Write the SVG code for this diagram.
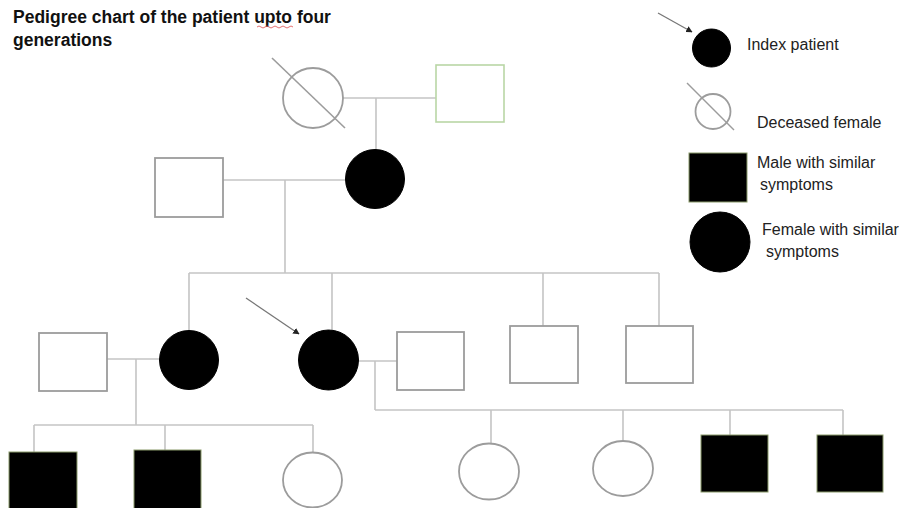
<svg xmlns="http://www.w3.org/2000/svg" width="906" height="508" viewBox="0 0 906 508">
<style>
.ln{stroke:#c4c4c4;stroke-width:1.6;fill:none}
.open{fill:#fff;stroke:#9c9c9c;stroke-width:1.8}
.green{fill:#fff;stroke:#b9d6a6;stroke-width:1.6}
.aff{fill:#000;stroke:#000;stroke-width:1}
.affsq{fill:#000;stroke:#8a9a6a;stroke-width:1}
.title{font-family:"Liberation Sans",Arial,sans-serif;font-weight:bold;font-size:17.5px;fill:#111}
.lg{font-family:"Liberation Sans",Arial,sans-serif;font-size:16px;fill:#222}
.arr{stroke:#777;stroke-width:1.3;fill:none}
</style>
<defs>
<marker id="ah" viewBox="0 0 10 10" refX="9" refY="5" markerWidth="5" markerHeight="5" orient="auto">
<path d="M0,0 L10,5 L0,10 z" fill="#222"/>
</marker>
</defs>
<rect width="906" height="508" fill="#fff"/>

<g id="title">
<text class="title" x="13" y="23">Pedigree chart of the patient upto four</text>
<text class="title" x="13" y="46">generations</text>
<path d="M257,27 q2,-2 4,0 t4,0 t4,0 t4,0 t4,0 t4,0 t4,0 t4,0 t4,0" stroke="#e06060" stroke-width="0.9" fill="none"/>
</g>

<g id="connectors">
<!-- Gen I -->
<line class="ln" x1="343" y1="98" x2="436" y2="98"/>
<line class="ln" x1="376" y1="98" x2="376" y2="150"/>
<!-- Gen II -->
<line class="ln" x1="223" y1="180" x2="346" y2="180"/>
<line class="ln" x1="285" y1="180" x2="285" y2="273"/>
<line class="ln" x1="189" y1="273" x2="659" y2="273"/>
<line class="ln" x1="189" y1="273" x2="189" y2="331"/>
<line class="ln" x1="332" y1="273" x2="332" y2="331"/>
<line class="ln" x1="543" y1="273" x2="543" y2="326"/>
<line class="ln" x1="659" y1="273" x2="659" y2="326"/>
<!-- Gen III left family -->
<line class="ln" x1="107" y1="359" x2="160" y2="359"/>
<line class="ln" x1="136" y1="359" x2="136" y2="425"/>
<line class="ln" x1="34" y1="425" x2="313" y2="425"/>
<line class="ln" x1="34" y1="425" x2="34" y2="452"/>
<line class="ln" x1="165" y1="425" x2="165" y2="450"/>
<line class="ln" x1="313" y1="425" x2="313" y2="452"/>
<!-- Gen III index family -->
<line class="ln" x1="358" y1="361" x2="397" y2="361"/>
<line class="ln" x1="375" y1="361" x2="375" y2="410"/>
<line class="ln" x1="375" y1="410" x2="843" y2="410"/>
<line class="ln" x1="491" y1="410" x2="491" y2="444"/>
<line class="ln" x1="623" y1="410" x2="623" y2="441"/>
<line class="ln" x1="730" y1="410" x2="730" y2="435"/>
<line class="ln" x1="843" y1="410" x2="843" y2="435"/>
<!-- index arrow -->
<line class="arr" x1="246" y1="298" x2="299" y2="334" marker-end="url(#ah)"/>
</g>

<!-- Generation I -->
<g id="g1-grandmother">
<circle class="open" cx="313" cy="98" r="30"/>
<line x1="272" y1="58" x2="345" y2="128" stroke="#9c9c9c" stroke-width="1.6"/>
</g>
<g id="g1-grandfather"><rect class="green" x="436" y="65" width="68" height="57"/></g>

<!-- Generation II -->
<g id="g2-father"><rect class="open" x="155" y="158" width="68" height="59"/></g>
<g id="g2-mother"><circle class="aff" cx="375" cy="179" r="29.5"/></g>

<!-- Generation III -->
<g id="g3-sister-husband"><rect class="open" x="39" y="333" width="68" height="58"/></g>
<g id="g3-sister"><circle class="aff" cx="189" cy="360" r="29.5"/></g>
<g id="g3-index"><circle class="aff" cx="328.5" cy="360" r="30"/></g>
<g id="g3-index-husband"><rect class="open" x="397" y="332" width="67" height="58"/></g>
<g id="g3-brother1"><rect class="open" x="510" y="326" width="68" height="57"/></g>
<g id="g3-brother2"><rect class="open" x="626" y="326" width="67" height="57"/></g>

<!-- Generation IV -->
<g id="g4-nephew1"><rect class="affsq" x="9" y="452" width="68" height="60"/></g>
<g id="g4-nephew2"><rect class="affsq" x="134" y="450" width="67" height="62"/></g>
<g id="g4-niece"><ellipse class="open" cx="312.5" cy="480" rx="29.5" ry="27.5"/></g>
<g id="g4-daughter1"><ellipse class="open" cx="489" cy="471.5" rx="30" ry="28"/></g>
<g id="g4-daughter2"><ellipse class="open" cx="623" cy="468.5" rx="30" ry="27.5"/></g>
<g id="g4-son1"><rect class="affsq" x="701" y="435" width="67" height="57"/></g>
<g id="g4-son2"><rect class="affsq" x="817" y="435" width="66" height="57"/></g>

<!-- Legend -->
<g id="legend-index">
<line class="arr" x1="658" y1="13" x2="692" y2="32" marker-end="url(#ah)"/>
<circle class="aff" cx="711.5" cy="48" r="19"/>
<text class="lg" x="747" y="50">Index patient</text>
</g>
<g id="legend-deceased">
<circle class="open" cx="713" cy="111.5" r="17.5"/>
<line x1="687" y1="83" x2="734" y2="130" stroke="#9c9c9c" stroke-width="1.4"/>
<text class="lg" x="757" y="128">Deceased female</text>
</g>
<g id="legend-male">
<rect class="affsq" x="689" y="153" width="58" height="49"/>
<text class="lg" x="757" y="168">Male with similar</text>
<text class="lg" x="760" y="190">symptoms</text>
</g>
<g id="legend-female">
<circle class="aff" cx="720" cy="242" r="30"/>
<text class="lg" x="762" y="235">Female with similar</text>
<text class="lg" x="766" y="257">symptoms</text>
</g>
</svg>
